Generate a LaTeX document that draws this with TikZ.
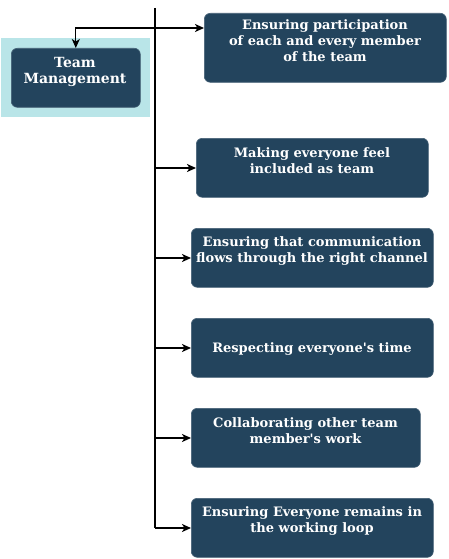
\documentclass[tikz,border=0pt]{standalone}
\usepackage{fontspec}
\setmainfont{DejaVu Serif}
\newfontfamily\dvserif{DejaVu Serif}[Ligatures=ResetAll]
\usetikzlibrary{arrows.meta}
\definecolor{boxfill}{HTML}{23445D}
\definecolor{cyanbg}{HTML}{B9E5E8}
\tikzset{
  itembox/.style={draw=boxfill!85!white, fill=boxfill, rounded corners=6pt, line width=0.6pt},
  itemtext/.style={text=white, font=\dvserif\fontsize{13}{16}\selectfont\bfseries, align=center, inner sep=0pt, anchor=center},
  spine/.style={line width=2pt, black},
  conn/.style={line width=1.6pt, -{Stealth[length=9pt,width=8pt,inset=2.5pt]}},
  thinconn/.style={line width=1.2pt, -{Stealth[length=9pt,width=8pt,inset=2.5pt]}},
}
\begin{document}
\begin{tikzpicture}[x=1pt,y=-1pt]
\useasboundingbox (0,0) rectangle (448,559);
% background highlight
\node[fill=cyanbg, minimum width=149pt, minimum height=79pt, inner sep=0pt, anchor=north west] (bg) at (1,38) {};
\node[itembox, minimum width=129pt, minimum height=59pt, inner sep=0pt, anchor=north west] (tm) at (11,48) {};
\node[itemtext, font=\dvserif\fontsize{14}{16.5}\selectfont\bfseries] (tmt) at (75,72) {Team\\Management};
% item boxes
\node[itembox, minimum width=242pt, minimum height=69pt, inner sep=0pt, anchor=north west] (b1) at (204,13) {};
\node[itemtext] (t1) at (325,40.5) {Ensuring participation\\of each and every member\\of the team};
\node[itembox, minimum width=232pt, minimum height=59pt, inner sep=0pt, anchor=north west] (b2) at (196,138) {};
\node[itemtext] (t2) at (312,161) {Making everyone feel\\included as team};
\node[itembox, minimum width=242pt, minimum height=59pt, inner sep=0pt, anchor=north west] (b3) at (191,228) {};
\node[itemtext] (t3) at (312,251) {Ensuring that communication\\flows through the right channel};
\node[itembox, minimum width=242pt, minimum height=59pt, inner sep=0pt, anchor=north west] (b4) at (191,318) {};
\node[itemtext] (t4) at (312,349) {Respecting everyone's time};
\node[itembox, minimum width=229pt, minimum height=59pt, inner sep=0pt, anchor=north west] (b5) at (191,408) {};
\node[itemtext] (t5) at (305.5,431) {Collaborating other team\\member's work};
\node[itembox, minimum width=242pt, minimum height=59pt, inner sep=0pt, anchor=north west] (b6) at (191,498) {};
\node[itemtext] (t6) at (312,521) {Ensuring Everyone remains in\\the working loop};
% spine
\coordinate (top) at (155,8);
\coordinate (bot) at (155,528);
\coordinate (j1) at (155,28);
\coordinate (j2) at (155,168);
\coordinate (j3) at (155,258);
\coordinate (j4) at (155,348);
\coordinate (j5) at (155,438);
\draw[spine] (top) -- (bot);
\draw[thinconn] (j1) -| (tm.north);
\draw[conn] (j1) -- (b1.west |- j1);
\draw[conn] (j2) -- (b2.west |- j2);
\draw[conn] (j3) -- (b3.west |- j3);
\draw[conn] (j4) -- (b4.west |- j4);
\draw[conn] (j5) -- (b5.west |- j5);
\draw[conn] (bot) -- (b6.west |- bot);
\end{tikzpicture}
\end{document}
